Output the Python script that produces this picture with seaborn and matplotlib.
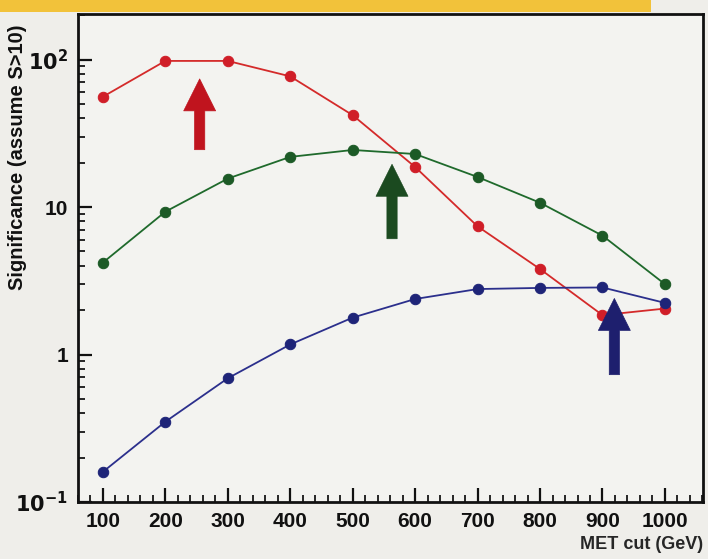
import numpy as np
import pandas as pd
import matplotlib
matplotlib.use("Agg")
import matplotlib.pyplot as plt
import seaborn as sns
from matplotlib.ticker import FixedLocator, FixedFormatter, MultipleLocator, LogLocator, NullFormatter
from matplotlib.patches import Rectangle

# MET cut values (GeV)
met_cut = [100, 200, 300, 400, 500, 600, 700, 800, 900, 1000]

# significance per MET cut, one list per sample
sig_red = [56, 98, 98, 77, 42, 18.7, 7.4, 3.8, 1.85, 2.05]
sig_green = [4.2, 9.3, 15.6, 21.9, 24.4, 22.9, 16.0, 10.7, 6.4, 3.0]
sig_blue = [0.16, 0.35, 0.69, 1.17, 1.78, 2.38, 2.78, 2.83, 2.85, 2.24]

series_names = ["red", "green", "blue"]
line_colors = ["#d42a2a", "#1f6a2c", "#2b2f8c"]
marker_colors = ["#d01e28", "#1c5a26", "#1e2478"]

# arrows marking the optimal cut: (x, tail, tip)
arrow_x = [255, 563, 919]
arrow_tail = [24.5, 6.1, 0.73]
arrow_tip = [74, 19.5, 2.4]
arrow_colors = ["#c0141e", "#1b4a20", "#1e1f6e"]

ytick_vals = [0.1, 1, 10, 100]
ytick_labels = [r"$\mathbf{10^{-1}}$", "1", "10", r"$\mathbf{10^{2}}$"]

df = pd.DataFrame({
    "met": met_cut * 3,
    "sig": sig_red + sig_green + sig_blue,
    "sample": sum([[n] * len(met_cut) for n in series_names], []),
})

sns.set_style("white")
plt.rcParams["font.family"] = ["Liberation Sans", "DejaVu Sans"]
plt.rcParams["font.weight"] = "bold"

fig = plt.figure(figsize=(7.08, 5.59), dpi=100)
fig.patch.set_facecolor("#efeeea")
ax = fig.add_axes([0.110, 0.102, 0.883, 0.873])
ax.set_facecolor("#f3f3f0")

# slide banner strip at top
fig.patches.append(Rectangle((0, 0.978), 0.92, 0.03, transform=fig.transFigure,
                             facecolor="#f2c23a", edgecolor="none", zorder=0))

for name, lc, mc in zip(series_names, line_colors, marker_colors):
    sub = df[df["sample"] == name]
    sns.lineplot(data=sub, x="met", y="sig", ax=ax, color=lc, lw=1.3,
                 marker="o", markersize=7.5, markerfacecolor=mc,
                 markeredgecolor=mc, legend=False, zorder=3)

ax.set_yscale("log")
ax.set_xlim(60, 1061)
ax.set_ylim(0.1, 204)

for x, t0, t1, c in zip(arrow_x, arrow_tail, arrow_tip, arrow_colors):
    ax.annotate("", xy=(x, t1), xytext=(x, t0),
                arrowprops=dict(arrowstyle="simple,head_length=1,head_width=1,tail_width=0.32",
                                mutation_scale=23, fc=c, ec=c, lw=0.5,
                                shrinkA=0, shrinkB=0),
                zorder=5)

ax.xaxis.set_major_locator(FixedLocator(met_cut))
ax.xaxis.set_minor_locator(MultipleLocator(20))
ax.yaxis.set_major_locator(FixedLocator(ytick_vals))
ax.yaxis.set_major_formatter(FixedFormatter(ytick_labels))
ax.yaxis.set_minor_locator(LogLocator(base=10, subs=np.arange(2, 10)))
ax.yaxis.set_minor_formatter(NullFormatter())

ax.tick_params(which="major", direction="in", length=10, width=1.6,
               labelsize=15, colors="#111111", pad=7)
ax.tick_params(which="minor", direction="in", length=5, width=1.4)
ax.tick_params(axis="y", which="both", left=True)
ax.tick_params(axis="x", which="both", bottom=True)
for lab in ax.get_xticklabels() + ax.get_yticklabels():
    lab.set_fontweight("bold")

for sp in ax.spines.values():
    sp.set_color("#111111")
    sp.set_linewidth(2)

ax.set_ylabel("")
ax.set_xlabel("MET cut (GeV)", fontsize=13, fontweight="bold", loc="right",
              labelpad=4)
fig.text(18 / 708, 1 - 157 / 559, "Significance (assume S>10)", rotation=90,
         ha="center", va="center", fontsize=14.5, fontweight="bold",
         color="#111111")

fig.savefig("out.png", dpi=100)
